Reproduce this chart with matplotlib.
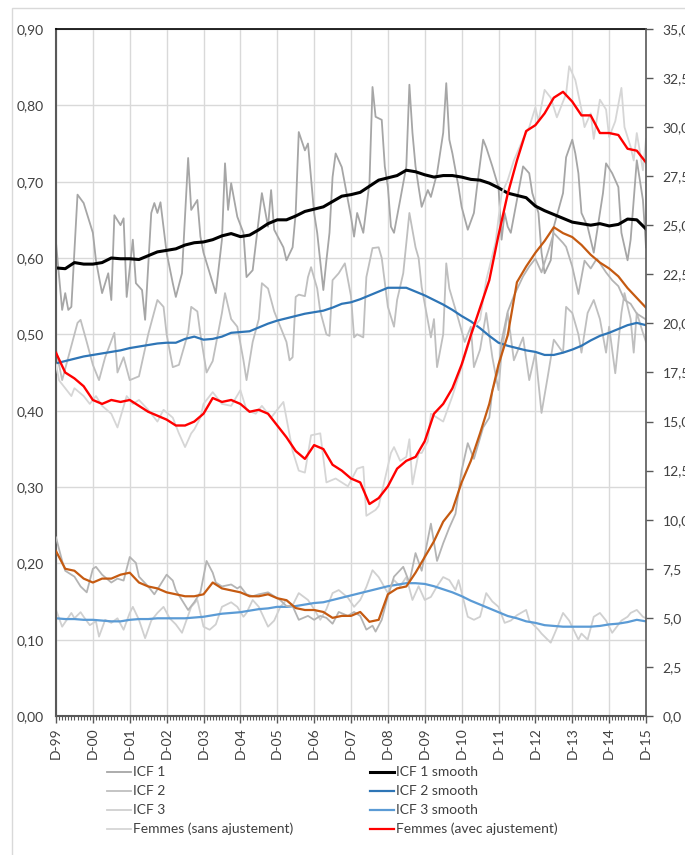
import matplotlib
matplotlib.use("Agg")
import matplotlib.pyplot as plt
from matplotlib.lines import Line2D
from matplotlib.patches import Rectangle
from matplotlib.ticker import FixedLocator, MultipleLocator, FuncFormatter

plt.rcParams['font.family'] = ['Lato', 'DejaVu Sans']

# months counted from December 1999
x_labels = ['D-99', 'D-00', 'D-01', 'D-02', 'D-03', 'D-04', 'D-05', 'D-06', 'D-07',
            'D-08', 'D-09', 'D-10', 'D-11', 'D-12', 'D-13', 'D-14', 'D-15']

# --- raw series (left axis) ---
icf1_months = [0, 2, 3, 4, 5, 7, 9, 10, 12, 13, 14, 15, 17, 18, 19, 21, 22, 23, 25, 26,
               28, 29, 31, 32, 33, 34, 36, 38, 39, 41, 43, 44, 46, 47, 48, 51, 52, 54, 55, 56,
               57, 59, 61, 62, 64, 67, 69, 70, 71, 74, 75, 77, 78, 79, 81, 82, 84, 85, 87, 88,
               89, 90, 91, 93, 95, 96, 97, 98, 100, 102, 103, 104, 106, 107, 108, 109, 110, 112, 114, 115,
               116, 117, 118, 119, 121, 122, 124, 126, 127, 128, 129, 131, 132, 134, 136, 137, 139, 140, 142, 144,
               145, 146, 147, 148, 150, 152, 154, 155, 157, 158, 159, 161, 162, 165, 166, 168, 169, 170, 171, 173,
               175, 176, 178, 179, 181, 183, 184, 186, 187, 189, 191, 192]
icf1 = [0.62, 0.532, 0.554, 0.532, 0.536, 0.683, 0.672, 0.659, 0.633, 0.597,
        0.575, 0.554, 0.58, 0.545, 0.656, 0.643, 0.652, 0.549, 0.624, 0.567,
        0.558, 0.519, 0.659, 0.672, 0.659, 0.673, 0.607, 0.567, 0.549, 0.58,
        0.731, 0.663, 0.676, 0.628, 0.607, 0.567, 0.554, 0.624, 0.724, 0.663,
        0.698, 0.654, 0.633, 0.575, 0.584, 0.685, 0.641, 0.689, 0.637, 0.614,
        0.597, 0.614, 0.659, 0.765, 0.741, 0.75, 0.659, 0.633, 0.558, 0.597,
        0.633, 0.706, 0.737, 0.719, 0.676, 0.654, 0.628, 0.659, 0.633, 0.698,
        0.824, 0.785, 0.781, 0.72, 0.693, 0.641, 0.633, 0.676, 0.72, 0.827,
        0.764, 0.72, 0.693, 0.667, 0.689, 0.68, 0.711, 0.764, 0.829, 0.755,
        0.737, 0.693, 0.667, 0.637, 0.659, 0.693, 0.755, 0.745, 0.72, 0.693,
        0.624, 0.659, 0.641, 0.633, 0.676, 0.72, 0.711, 0.685, 0.659, 0.607,
        0.58, 0.597, 0.641, 0.685, 0.732, 0.755, 0.737, 0.711, 0.659, 0.641,
        0.607, 0.633, 0.685, 0.724, 0.711, 0.693, 0.633, 0.597, 0.624, 0.728,
        0.676, 0.614]

icf2_months = [0, 2, 4, 7, 8, 10, 12, 14, 16, 19, 20, 22, 24, 27, 30, 33, 35, 36, 38, 40,
               43, 44, 46, 47, 49, 51, 54, 55, 57, 59, 61, 62, 64, 66, 67, 69, 71, 73, 75, 76,
               77, 78, 79, 81, 82, 83, 85, 86, 88, 89, 90, 92, 94, 96, 97, 98, 100, 101, 103, 105,
               106, 108, 110, 111, 113, 115, 117, 118, 119, 122, 123, 124, 126, 127, 128, 131, 133, 135, 136, 138,
               140, 142, 144, 145, 147, 149, 152, 154, 156, 158, 160, 162, 165, 166, 168, 170, 171, 173, 175, 177,
               179, 180, 182, 184, 185, 187, 188, 189, 191, 192]
icf2 = [0.48, 0.44, 0.47, 0.515, 0.519, 0.49, 0.46, 0.44, 0.47, 0.502,
        0.45, 0.47, 0.44, 0.445, 0.50, 0.545, 0.536, 0.50, 0.457, 0.46,
        0.502, 0.536, 0.53, 0.50, 0.45, 0.465, 0.528, 0.554, 0.52, 0.51,
        0.466, 0.44, 0.49, 0.52, 0.567, 0.56, 0.53, 0.51, 0.49, 0.466,
        0.47, 0.549, 0.552, 0.55, 0.575, 0.588, 0.56, 0.53, 0.50, 0.498,
        0.571, 0.58, 0.593, 0.55, 0.496, 0.50, 0.496, 0.575, 0.613, 0.614,
        0.60, 0.536, 0.51, 0.545, 0.58, 0.659, 0.614, 0.60, 0.562, 0.496,
        0.52, 0.457, 0.50, 0.593, 0.56, 0.519, 0.49, 0.51, 0.457, 0.48,
        0.528, 0.47, 0.427, 0.476, 0.528, 0.466, 0.496, 0.44, 0.476, 0.397,
        0.444, 0.493, 0.476, 0.536, 0.528, 0.50, 0.476, 0.528, 0.545, 0.52,
        0.476, 0.51, 0.449, 0.528, 0.554, 0.52, 0.476, 0.528, 0.502, 0.49]

icf3_months = [0, 2, 5, 6, 8, 9, 11, 13, 14, 16, 18, 20, 22, 24, 25, 27, 29, 31, 33, 35,
               37, 39, 41, 44, 46, 48, 50, 52, 54, 57, 59, 61, 62, 64, 66, 69, 71, 73, 75, 77,
               79, 82, 84, 86, 88, 90, 92, 95, 97, 99, 101, 103, 105, 108, 110, 112, 114, 116, 118, 120,
               122, 124, 126, 128, 130, 131, 134, 136, 138, 140, 142, 144, 146, 148, 150, 153, 154, 157, 158, 161,
               163, 165, 167, 170, 171, 173, 175, 177, 179, 181, 184, 186, 187, 189, 191, 192]
icf3 = [0.139, 0.117, 0.135, 0.128, 0.136, 0.13, 0.119, 0.124, 0.104, 0.126,
        0.122, 0.128, 0.113, 0.135, 0.143, 0.126, 0.102, 0.125, 0.135, 0.143,
        0.128, 0.12, 0.109, 0.143, 0.152, 0.117, 0.113, 0.12, 0.143, 0.149,
        0.143, 0.13, 0.135, 0.152, 0.143, 0.117, 0.125, 0.143, 0.152, 0.145,
        0.161, 0.152, 0.14, 0.126, 0.14, 0.161, 0.165, 0.155, 0.143, 0.152,
        0.169, 0.191, 0.182, 0.161, 0.178, 0.17, 0.182, 0.152, 0.17, 0.152,
        0.156, 0.17, 0.182, 0.178, 0.165, 0.178, 0.13, 0.126, 0.13, 0.161,
        0.15, 0.143, 0.122, 0.125, 0.132, 0.139, 0.125, 0.113, 0.108, 0.096,
        0.115, 0.135, 0.125, 0.1, 0.108, 0.1, 0.13, 0.135, 0.125, 0.109,
        0.125, 0.13, 0.135, 0.139, 0.13, 0.128]

# --- smoothed series, quarterly (left axis) ---
q_months = list(range(0, 193, 3))
icf1_smooth = [0.587, 0.586, 0.594, 0.592, 0.592, 0.594, 0.6, 0.599, 0.599, 0.598,
               0.603, 0.608, 0.61, 0.612, 0.617, 0.62, 0.621, 0.624, 0.629, 0.632,
               0.628, 0.63, 0.637, 0.645, 0.65, 0.65, 0.655, 0.661, 0.664, 0.667,
               0.674, 0.681, 0.683, 0.686, 0.694, 0.702, 0.705, 0.708, 0.715, 0.713,
               0.709, 0.706, 0.708, 0.708, 0.706, 0.703, 0.702, 0.698, 0.692, 0.685,
               0.682, 0.679, 0.668, 0.662, 0.657, 0.652, 0.647, 0.645, 0.643, 0.645,
               0.642, 0.644, 0.651, 0.65, 0.638]
icf2_smooth = [0.462, 0.465, 0.468, 0.471, 0.473, 0.475, 0.477, 0.479, 0.482, 0.484,
               0.486, 0.488, 0.489, 0.489, 0.494, 0.497, 0.493, 0.494, 0.497, 0.502,
               0.503, 0.504, 0.509, 0.514, 0.518, 0.521, 0.524, 0.527, 0.529, 0.531,
               0.535, 0.54, 0.542, 0.546, 0.551, 0.556, 0.561, 0.561, 0.561, 0.556,
               0.551, 0.545, 0.539, 0.532, 0.524, 0.517, 0.508, 0.498, 0.489, 0.485,
               0.482, 0.479, 0.477, 0.473, 0.473, 0.476, 0.48, 0.485, 0.492, 0.498,
               0.502, 0.507, 0.512, 0.515, 0.512]
icf3_smooth = [0.128, 0.127, 0.127, 0.126, 0.126, 0.125, 0.124, 0.124, 0.126, 0.127,
               0.127, 0.128, 0.128, 0.128, 0.128, 0.129, 0.13, 0.132, 0.134, 0.135,
               0.136, 0.138, 0.14, 0.141, 0.143, 0.143, 0.144, 0.146, 0.148, 0.149,
               0.152, 0.155, 0.158, 0.161, 0.164, 0.167, 0.17, 0.172, 0.174, 0.174,
               0.173, 0.17, 0.166, 0.162, 0.157, 0.151, 0.146, 0.141, 0.136, 0.131,
               0.128, 0.124, 0.122, 0.119, 0.118, 0.117, 0.117, 0.117, 0.117, 0.118,
               0.12, 0.121, 0.123, 0.126, 0.124]

# --- right axis series ---
femmes_avec = [18.5, 17.5, 17.2, 16.8, 16.1, 15.9, 16.1, 16.0, 16.1, 15.8,
               15.5, 15.3, 15.1, 14.8, 14.8, 15.0, 15.4, 16.2, 16.0, 16.1,
               15.9, 15.5, 15.6, 15.4, 14.8, 14.2, 13.5, 13.1, 13.8, 13.6,
               12.8, 12.5, 12.1, 11.9, 10.8, 11.1, 11.7, 12.6, 13.0, 13.2,
               14.0, 15.4, 15.9, 16.7, 17.9, 19.4, 20.8, 22.2, 24.5, 26.6,
               28.3, 29.8, 30.1, 30.7, 31.5, 31.8, 31.3, 30.6, 30.6, 29.7,
               29.7, 29.6, 28.9, 28.8, 28.2]
hommes_avec = [8.4, 7.5, 7.4, 7.0, 6.8, 7.0, 7.0, 7.2, 7.3, 6.8,
               6.6, 6.5, 6.3, 6.2, 6.1, 6.1, 6.2, 6.8, 6.5, 6.4,
               6.3, 6.1, 6.1, 6.2, 6.0, 5.9, 5.5, 5.4, 5.4, 5.3,
               5.0, 5.1, 5.1, 5.3, 4.8, 4.9, 6.2, 6.5, 6.6, 7.3,
               8.1, 8.9, 9.9, 10.5, 11.9, 13.0, 14.4, 15.9, 17.9, 19.4,
               22.1, 22.9, 23.6, 24.2, 24.9, 24.6, 24.4, 24.0, 23.5, 23.1,
               22.8, 22.4, 21.8, 21.3, 20.8]

femmes_months = [0, 1, 5, 6, 9, 11, 13, 15, 18, 20, 23, 25, 27, 30, 33, 35, 38, 40, 42, 44,
                 45, 47, 48, 51, 54, 57, 60, 62, 65, 67, 70, 72, 74, 77, 79, 81, 83, 86, 88, 91,
                 95, 98, 100, 101, 104, 105, 109, 110, 112, 114, 115, 116, 118, 119, 121, 122, 126, 129, 131, 133,
                 136, 138, 140, 143, 145, 147, 149, 152, 154, 156, 157, 159, 161, 163, 166, 167, 169, 171, 172, 174,
                 175, 177, 179, 180, 182, 184, 185, 187, 188, 189, 191, 192]
femmes_sans = [17.9, 17.1, 16.3, 16.7, 16.3, 15.9, 16.3, 15.8, 15.4, 14.7,
               16.3, 15.9, 16.1, 15.6, 15.0, 15.6, 15.2, 14.4, 13.7, 14.4,
               14.6, 15.2, 15.9, 16.5, 15.9, 15.8, 16.6, 15.6, 15.4, 15.8,
               15.2, 15.6, 16.0, 13.5, 12.5, 12.4, 14.3, 14.4, 11.9, 12.1,
               11.7, 12.6, 12.7, 10.2, 10.5, 10.7, 13.4, 13.7, 13.0, 13.2,
               14.1, 11.8, 13.4, 13.4, 14.0, 15.4, 15.0, 16.3, 17.3, 18.3,
               19.8, 20.2, 22.2, 24.1, 26.6, 27.3, 28.3, 29.4, 30.0, 31.0,
               30.3, 31.9, 31.5, 30.5, 31.7, 33.1, 32.4, 30.9, 30.0, 30.7,
               29.4, 31.4, 30.9, 29.5, 30.3, 32.0, 30.0, 29.0, 28.3, 29.7,
               27.8, 29.4]

hommes_months = [0, 2, 3, 6, 8, 10, 12, 13, 15, 18, 20, 22, 24, 26, 27, 30, 32, 34, 36, 38,
                 39, 41, 43, 45, 47, 49, 51, 52, 54, 57, 59, 60, 62, 64, 66, 69, 71, 73, 75, 77,
                 79, 82, 84, 86, 88, 90, 92, 95, 97, 99, 101, 103, 104, 106, 108, 110, 113, 115, 117, 119,
                 121, 122, 124, 126, 128, 130, 132, 134, 136, 139, 141, 142, 144, 145, 147, 149, 152, 154, 156, 158,
                 160, 162, 165, 166, 168, 170, 172, 174, 176, 179, 181, 183, 185, 187, 189, 192]
hommes_sans = [9.1, 7.9, 7.4, 7.1, 6.6, 6.3, 7.5, 7.6, 7.2, 6.8,
               7.0, 6.9, 8.1, 7.8, 7.1, 6.6, 6.2, 6.7, 7.2, 6.9,
               6.4, 5.9, 5.4, 5.8, 6.3, 7.9, 7.3, 6.8, 6.6, 6.7,
               6.5, 6.6, 6.2, 6.1, 6.2, 6.3, 6.1, 5.9, 5.6, 5.6,
               4.9, 5.1, 4.9, 5.1, 5.0, 4.7, 5.3, 5.1, 5.3, 5.1,
               4.4, 4.6, 4.3, 4.9, 6.1, 7.1, 7.6, 6.8, 8.3, 7.4,
               9.0, 9.8, 7.9, 8.8, 9.6, 10.3, 12.5, 13.9, 13.1, 14.7,
               15.2, 16.6, 17.6, 19.1, 20.6, 21.4, 22.4, 22.9, 23.3, 22.6,
               23.6, 24.6, 24.1, 23.9, 22.9, 21.5, 23.2, 22.8, 23.3, 22.6,
               22.2, 21.9, 21.2, 21.0, 20.5, 20.2]

W, H = 685, 855
fig = plt.figure(figsize=(W / 100, H / 100), dpi=100)
fig.add_artist(Rectangle((12 / W, -0.05), 1.0, 1.05 - 8 / H, transform=fig.transFigure,
                         fill=False, edgecolor='#d9d9d9', lw=1.0))

ax = fig.add_axes([56 / W, 1 - 716 / H, 590 / W, 687 / H])
ax2 = ax.twinx()

c_icf1, c_icf2, c_icf3, c_fem = '#a6a6a6', '#bfbfbf', '#d0d0d0', '#d6d6d6'

ax.plot(icf3_months, icf3, color=c_icf3, lw=1.3)
ax.plot(icf2_months, icf2, color=c_icf2, lw=1.3)
ax.plot(icf1_months, icf1, color=c_icf1, lw=1.3)
ax.plot(q_months, icf3_smooth, color='#5b9bd5', lw=1.6)
ax.plot(q_months, icf2_smooth, color='#2e75b6', lw=1.6)
ax.plot(q_months, icf1_smooth, color='black', lw=2.2)

ax2.plot(femmes_months, femmes_sans, color=c_fem, lw=1.3)
ax2.plot(hommes_months, hommes_sans, color='#b4b4b4', lw=1.3)
ax2.plot(q_months, hommes_avec, color='#c55a11', lw=1.6)
ax2.plot(q_months, femmes_avec, color='#ff0000', lw=1.7)

ax.set_xlim(0, 192)
ax.set_ylim(0, 0.9)
ax2.set_ylim(0, 35)

ax.xaxis.set_major_locator(FixedLocator(list(range(0, 193, 12))))
ax.set_xticklabels(x_labels, rotation=90, fontsize=10, color='#404040')
ax.xaxis.set_minor_locator(MultipleLocator(1))
ax.tick_params(axis='x', which='major', length=5, width=1, color='#595959', pad=3)
ax.tick_params(axis='x', which='minor', length=3, width=0.8, color='#595959')

ax.yaxis.set_major_locator(MultipleLocator(0.1))
ax.yaxis.set_major_formatter(FuncFormatter(lambda v, p: f"{v:.2f}".replace('.', ',')))
ax.tick_params(axis='y', length=0, labelsize=10, labelcolor='#404040', pad=9)

ax2.yaxis.set_major_locator(MultipleLocator(2.5))
ax2.yaxis.set_major_formatter(FuncFormatter(lambda v, p: f"{v:.1f}".replace('.', ',')))
ax2.tick_params(axis='y', length=5, width=1, color='#595959', labelsize=10,
                labelcolor='#404040', pad=7)

ax.grid(True, which='major', color='#d9d9d9', lw=1.0)
ax.set_axisbelow(True)

for s in ['left', 'bottom']:
    ax.spines[s].set_color('#595959')
    ax.spines[s].set_linewidth(1.5)
ax.spines['top'].set_color('#000000')
ax.spines['top'].set_linewidth(1.2)
ax2.spines['right'].set_color('#595959')
ax2.spines['right'].set_linewidth(1.2)
for s in ['left', 'bottom', 'top']:
    ax2.spines[s].set_visible(False)
ax.spines['right'].set_visible(False)

# legend, drawn by hand in two columns
legend_rows = [772, 791, 810, 829]
left_col = [('ICF 1', c_icf1, 1.3), ('ICF 2', c_icf2, 1.3), ('ICF 3', c_icf3, 1.3),
            ('Femmes (sans ajustement)', c_fem, 1.3)]
right_col = [('ICF 1 smooth', 'black', 2.2), ('ICF 2 smooth', '#2e75b6', 1.6),
             ('ICF 3 smooth', '#5b9bd5', 1.6), ('Femmes (avec ajustement)', '#ff0000', 1.6)]
for (x0, x1, xt), col in [((107, 131, 133), left_col), ((370, 394, 396), right_col)]:
    for yy, (lab, c, lw) in zip(legend_rows, col):
        fy = 1 - yy / H
        fig.add_artist(Line2D([x0 / W, x1 / W], [fy, fy], color=c, lw=lw,
                              transform=fig.transFigure))
        fig.text(xt / W, fy, lab, fontsize=10, color='#404040', va='center', ha='left')

fig.savefig('out.png', dpi=100)
